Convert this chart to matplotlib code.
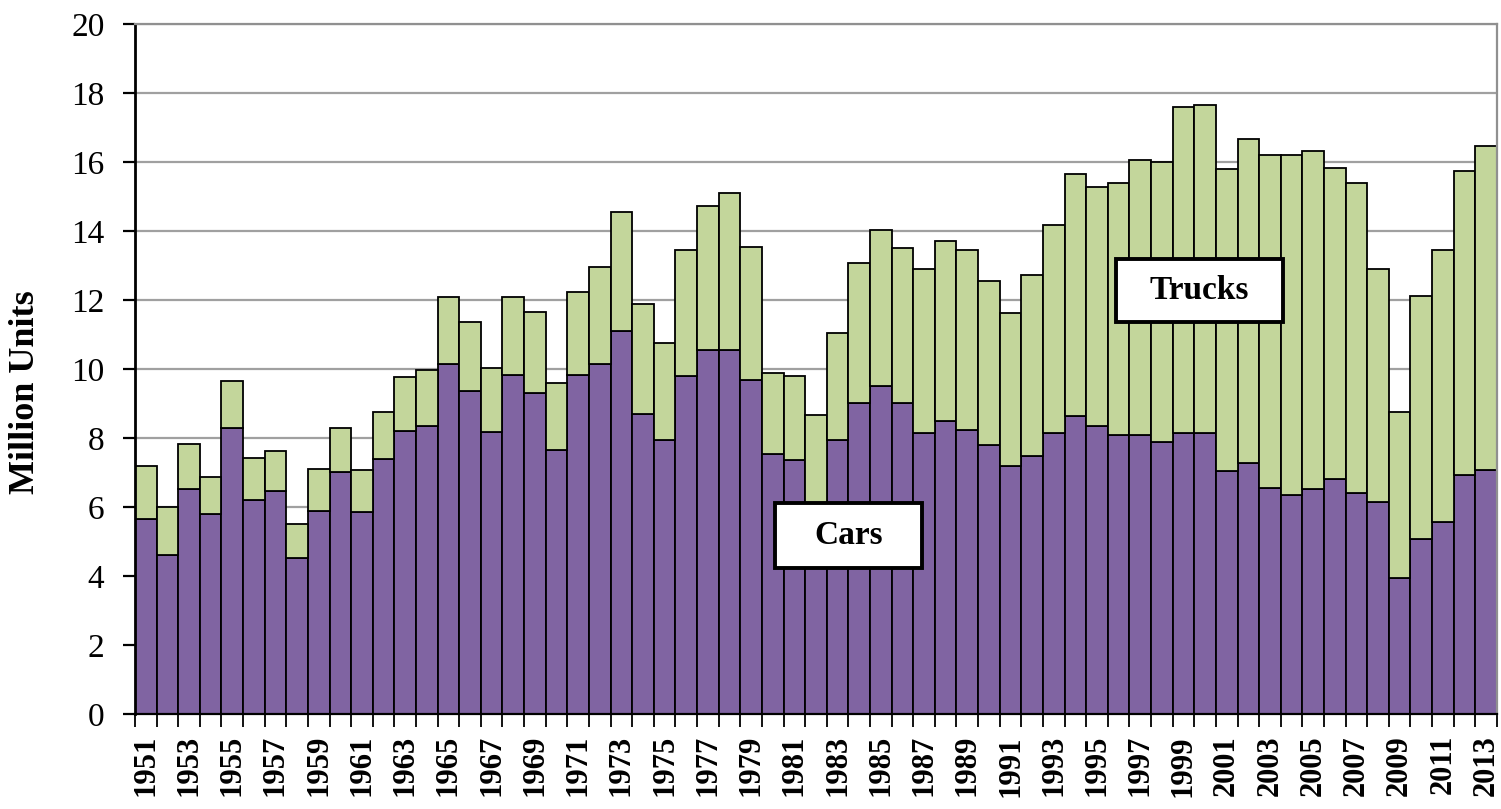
"""Annual US light-vehicle units, cars vs trucks, stacked bars 1951-2013."""
import matplotlib
matplotlib.use("Agg")
import matplotlib.pyplot as plt
import numpy as np

YEARS = list(range(1951, 2014))

# million units
CARS = [5.65, 4.62, 6.52, 5.81, 8.30, 6.21, 6.46, 4.52, 5.90, 7.01,
        5.85, 7.39, 8.21, 8.35, 10.15, 9.38, 8.19, 9.83, 9.32, 7.66,
        9.83, 10.14, 11.11, 8.70, 7.95, 9.81, 10.56, 10.56, 9.69, 7.54,
        7.37, 5.90, 7.95, 9.01, 9.52, 9.03, 8.14, 8.50, 8.24, 7.79,
        7.18, 7.47, 8.14, 8.65, 8.34, 8.10, 8.10, 7.88, 8.14, 8.14,
        7.06, 7.27, 6.55, 6.36, 6.52, 6.81, 6.41, 6.14, 3.96, 5.08,
        5.58, 6.92, 7.08]
TOTAL = [7.18, 6.00, 7.83, 6.87, 9.67, 7.43, 7.64, 5.50, 7.12, 8.30,
         7.08, 8.76, 9.77, 9.98, 12.09, 11.36, 10.04, 12.08, 11.67, 9.61,
         12.23, 12.96, 14.54, 11.88, 10.75, 13.46, 14.73, 15.10, 13.55, 9.88,
         9.79, 8.68, 11.06, 13.09, 14.02, 13.51, 12.90, 13.71, 13.46, 12.54,
         11.62, 12.73, 14.17, 15.65, 15.29, 15.40, 16.06, 16.00, 17.59, 17.64,
         15.80, 16.67, 16.20, 16.20, 16.31, 15.84, 15.40, 12.90, 8.75, 12.13,
         13.46, 15.75, 16.48]
TRUCKS = [round(t - c, 2) for t, c in zip(TOTAL, CARS)]

CAR_COLOR = "#8064A2"
TRUCK_COLOR = "#C3D69B"
FONT = ["Liberation Serif", "DejaVu Serif"]


def main():
    plt.rcParams["font.family"] = FONT

    fig = plt.figure(figsize=(15.01, 8.09), dpi=100)
    ax = fig.add_axes([0.0899, 0.1171, 0.9074, 0.8532])

    x = np.arange(len(YEARS))
    ax.bar(x, CARS, width=1.0, color=CAR_COLOR, edgecolor="black", linewidth=1.3, zorder=2)
    ax.bar(x, TRUCKS, bottom=CARS, width=1.0, color=TRUCK_COLOR,
           edgecolor="black", linewidth=1.3, zorder=2)

    ax.set_xlim(-0.5, len(YEARS) - 0.5)
    ax.set_ylim(0, 20)
    ax.set_yticks(range(0, 21, 2))
    ax.yaxis.grid(True, color="#A0A0A0", linewidth=1.6, zorder=0)
    ax.set_axisbelow(True)

    # year labels on odd years, tick marks between bars
    odd = [i for i, y in enumerate(YEARS) if y % 2 == 1]
    ax.set_xticks(odd)
    ax.set_xticklabels([str(YEARS[i]) for i in odd], rotation=90, fontsize=22, fontweight="bold")
    ax.set_xticks(np.arange(-0.5, len(YEARS)), minor=True)
    ax.tick_params(axis="x", which="major", length=0, pad=15)
    ax.tick_params(axis="x", which="minor", length=9, width=1.3, direction="out")
    ax.tick_params(axis="y", length=9, width=1.6, direction="out", labelsize=24, pad=13)

    fig.text(26 / 1501, 1 - 392 / 809, "Million Units", rotation=90, ha="center", va="center",
             fontsize=26, fontweight="bold")

    ax.spines["left"].set_linewidth(2)
    ax.spines["bottom"].set_linewidth(1.6)
    ax.spines["top"].set_color("#909090")
    ax.spines["top"].set_linewidth(1.6)
    ax.spines["right"].set_color("#909090")
    ax.spines["right"].set_linewidth(1.6)

    # boxed series labels
    for (x0, x1, y0, y1, txt) in [(29.1, 35.9, 4.23, 6.12, "Cars"),
                                  (44.9, 52.6, 11.38, 13.19, "Trucks")]:
        ax.add_patch(plt.Rectangle((x0, y0), x1 - x0, y1 - y0, facecolor="white",
                                   edgecolor="black", linewidth=2.8, zorder=5))
        ax.text((x0 + x1) / 2, (y0 + y1) / 2, txt, ha="center", va="center",
                fontsize=24, fontweight="bold", zorder=6)

    fig.savefig("out.png", dpi=100)
    plt.close(fig)


if __name__ == "__main__":
    main()
